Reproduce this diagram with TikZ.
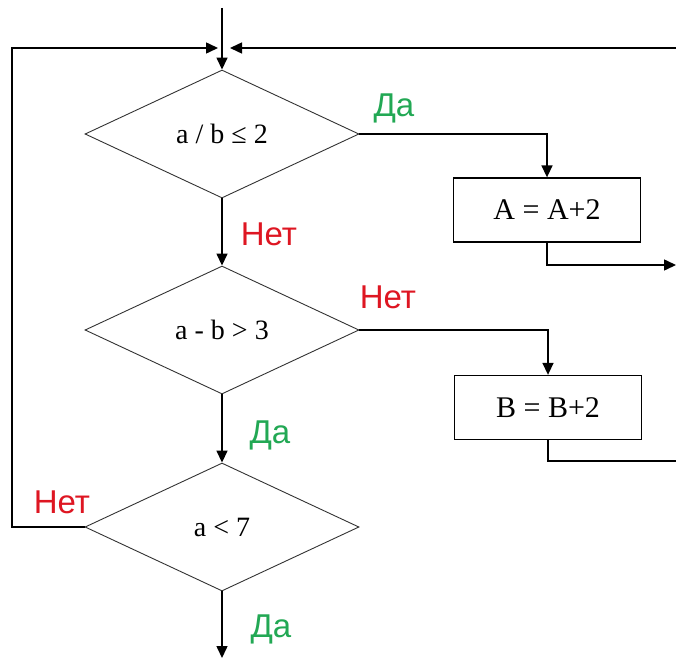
\documentclass[tikz,border=0pt]{standalone}
\usepackage{fontspec}
\setmainfont{Liberation Serif}
\newfontfamily\lblfont{Liberation Sans}
\usetikzlibrary{shapes.geometric,arrows.meta}
\definecolor{dagreen}{RGB}{34,168,84}
\definecolor{netred}{RGB}{222,22,34}
\tikzset{
  x=1pt,y=-1pt,
  cond/.style={diamond,draw=black!80,line width=0.9pt,inner sep=0pt,minimum width=274pt,minimum height=128pt,shape aspect=2.1,font=\fontsize{28}{30}\selectfont},
  proc/.style={rectangle,draw=black,line width=1.3pt,inner sep=0pt,minimum width=187pt,minimum height=64pt,font=\fontsize{30}{32}\selectfont},
  conn/.style={line width=1.5pt,draw=black},
  arr/.style={conn,-{Triangle[length=12pt,width=11pt]}},
  yes/.style={text=dagreen,font=\lblfont\fontsize{33}{35}\selectfont,anchor=base},
  no/.style={text=netred,font=\lblfont\fontsize{33}{35}\selectfont,anchor=base},
}
\begin{document}
\begin{tikzpicture}
\useasboundingbox (0,0) rectangle (676,658);
\node[cond] (d1) at (222,134) {a / b ≤ 2};
\node[cond] (d2) at (222,330) {a - b > 3};
\node[cond] (d3) at (222,527) {a < 7};
\node[proc] (A) at (547,210) {A = A+2};
\node[proc] (B) at (548,407.5) {B = B+2};
\coordinate (top) at (222,8);
\coordinate (jl) at (218,48);
\coordinate (jr) at (230,48);
\coordinate (lc) at (12,48);
\coordinate (rt) at (676,48);
\coordinate (ra) at (676,265);
\coordinate (rb) at (676,461);
\coordinate (bot) at (222,658);
% connectors
\draw[arr] (top) -- (d1.north);
\draw[arr] (d1.east) -| (A.north);
\draw[arr] (A.south) |- (ra);
\draw[arr] (d1.south) -- (d2.north);
\draw[arr] (d2.east) -| (B.north);
\draw[conn] (B.south) |- (rb);
\draw[arr] (d2.south) -- (d3.north);
\draw[arr] (d3.south) -- (bot);
\draw[arr] (d3.west) -| (lc) -- (jl);
\draw[arr] (rt) -- (jr);
% labels
\node[yes] (y1) at (394,117) {Да};
\node[no] (n1) at (269,245) {Нет};
\node[no] (n2) at (388,308) {Нет};
\node[yes] (y2) at (270,443) {Да};
\node[no] (n3) at (62,513) {Нет};
\node[yes] (y3) at (271,637) {Да};
\end{tikzpicture}
\end{document}
